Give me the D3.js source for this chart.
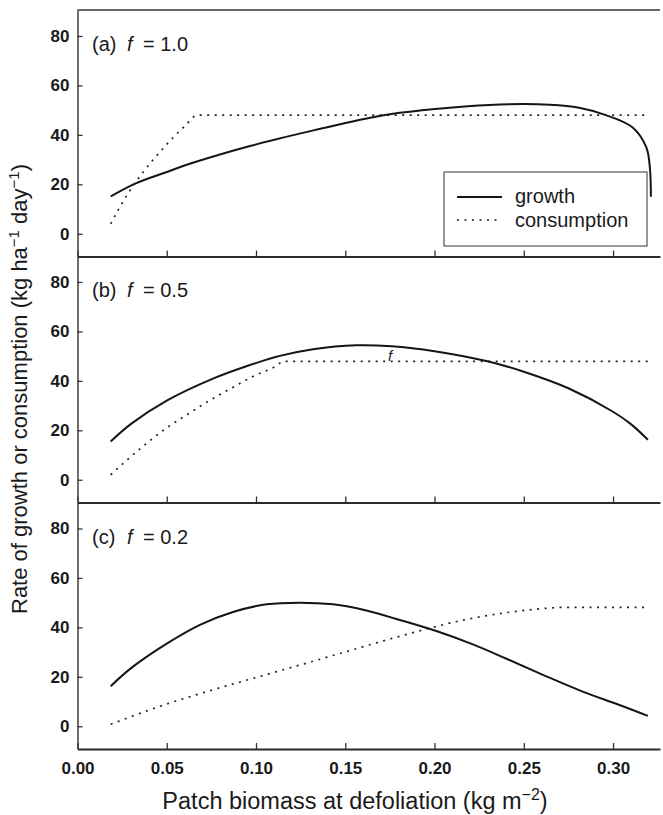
<!DOCTYPE html>
<html>
<head>
<meta charset="utf-8">
<script src="https://cdn.jsdelivr.net/npm/d3@7"></script>
<style>
  body { margin: 0; background: #fff; }
  svg { display: block; font-family: "Liberation Sans", Arial, Helvetica, sans-serif; }
  .tick text { font-size: 17px; font-weight: bold; fill: #1a1a1a; }
  .tick line { stroke: #333; stroke-width: 1.3; }
  .growth { fill: none; stroke: #151515; stroke-width: 2; }
  .consumption { fill: none; stroke: #222; stroke-width: 1.7; stroke-dasharray: 2 5.5; }
</style>
</head>
<body>
<svg width="663" height="815"></svg>
<script>
// panel f values and y ticks
const panelNames = ["(a)", "(b)", "(c)"];
const fValues = ["1.0", "0.5", "0.2"];
const xTicks = [0, 0.05, 0.10, 0.15, 0.20, 0.25, 0.30];
const yTicks = [0, 20, 40, 60, 80];

// [patch biomass, rate]
const growthA = [[0.0186,15.1],[0.032,20.2],[0.05,25.0],[0.0655,28.9],[0.0972,35.6],[0.131,41.6],
  [0.164,46.9],[0.1805,48.9],[0.2085,51],[0.2365,52.3],[0.2645,52.2],[0.281,51],[0.296,48],
  [0.311,43],[0.3186,35],[0.3206,27],[0.3212,15]];
const consumptionA = [[0.0186,4],[0.0282,16.2],[0.0375,25.6],[0.0478,34.4],[0.0599,43.4],[0.0674,48],[0.3186,48]];

const growthB = [[0.0186,15.5],[0.03,22.6],[0.05,32.0],[0.0759,40.9],[0.0946,45.9],
  [0.1133,50.1],[0.132,52.8],[0.156,54.4],[0.176,54],[0.2,52],[0.229,48],[0.25,43.7],[0.275,37],
  [0.3,27.5],[0.31,22.5],[0.3195,16.2]];
const consumptionB = [[0.0186,2],[0.035,12.5],[0.05,21],[0.0606,26],[0.0731,31.7],[0.0853,36.7],
  [0.0983,41.8],[0.111,45.9],[0.1155,47.9],[0.3195,47.9]];

const growthC = [[0.0186,16.2],[0.03,23.5],[0.05,33.4],[0.0686,41.0],[0.0871,46.2],[0.1058,49.3],
  [0.1245,50],[0.1431,49.3],[0.1618,46.8],[0.1805,43],[0.201,38.5],[0.2215,33.1],[0.24,27.4],
  [0.2607,20.8],[0.283,14.0],[0.3036,8.6],[0.3195,4.2]];
const consumptionC = [[0.0186,0.8],[0.05,9],[0.0686,13.2],[0.1058,20.9],[0.1431,28.6],[0.1805,36.4],
  [0.2178,43.2],[0.2551,47.2],[0.2738,48.1],[0.3195,48.1]];

const growthSeries = [growthA, growthB, growthC];
const consumptionSeries = [consumptionA, consumptionB, consumptionC];

const svg = d3.select("svg");
const left = 77.5, right = 660;
const panelTops = [10, 256, 502.5];
const panelH = 246.5;

const x = d3.scaleLinear().domain([0, 0.3263]).range([left, right]);

// top border
svg.append("line")
  .attr("x1", x.range()[0]).attr("x2", x.range()[1])
  .attr("y1", panelTops[0]).attr("y2", panelTops[0])
  .attr("stroke", "#333").attr("stroke-width", 1.6);

panelNames.forEach((name, i) => {
  const top = panelTops[i], bottom = top + panelH;
  const y = d3.scaleLinear().domain([-9.2, 90.5]).range([bottom, top]);
  const g = svg.append("g");

  const yAxis = g.append("g")
    .attr("transform", `translate(${left},0)`)
    .call(d3.axisLeft(y).tickValues(yTicks).tickSizeInner(-5).tickSizeOuter(0).tickPadding(8));
  yAxis.select(".domain").attr("stroke", "#333").attr("stroke-width", 1.4);

  const xAxis = g.append("g")
    .attr("transform", `translate(0,${bottom})`)
    .call(d3.axisBottom(x).tickValues(xTicks).tickFormat(d3.format(".2f"))
      .tickSizeInner(-6).tickSizeOuter(0).tickPadding(13));
  xAxis.select(".domain").attr("stroke", "#2a2a2a").attr("stroke-width", 1.9);
  if (i < 2) xAxis.selectAll(".tick text").remove();

  const growthLine = d3.line()
    .x(d => x(d[0])).y(d => y(d[1]))
    .curve(d3.curveCatmullRom.alpha(0.5));
  const consLine = d3.line()
    .x(d => x(d[0])).y(d => y(d[1]))
    .curve(d3.curveMonotoneX);

  g.append("path").attr("class", "consumption").attr("d", consLine(consumptionSeries[i]));
  g.append("path").attr("class", "growth").attr("d", growthLine(growthSeries[i]));

  // panel label
  const lab = g.append("g").attr("font-size", 20).attr("fill", "#1a1a1a");
  lab.append("text").attr("x", 92).attr("y", top + 41).text(name);
  lab.append("text").attr("x", 127).attr("y", top + 41).attr("font-style", "italic").text("f");
  lab.append("text").attr("x", 143).attr("y", top + 41).text("= " + fValues[i]);

  if (i === 1) {
    g.append("text")
      .attr("x", x(0.1756) - 3).attr("y", y(48))
      .attr("font-size", 15).attr("font-style", "italic").attr("fill", "#1a1a1a")
      .text("f");
  }
});

// legend
const leg = svg.append("g");
leg.append("rect")
  .attr("x", 444).attr("y", 172).attr("width", 203).attr("height", 74)
  .attr("fill", "#fff").attr("stroke", "#333").attr("stroke-width", 1);
leg.append("line").attr("class", "growth").attr("x1", 457).attr("x2", 502).attr("y1", 197).attr("y2", 197)
  .attr("stroke-width", 1.5);
leg.append("line").attr("class", "consumption").attr("x1", 457).attr("x2", 502).attr("y1", 220).attr("y2", 220)
  .attr("stroke-width", 1.5);
leg.append("text").attr("x", 515).attr("y", 203).attr("font-size", 20).attr("fill", "#1a1a1a").text("growth");
leg.append("text").attr("x", 515).attr("y", 227).attr("font-size", 20).attr("fill", "#1a1a1a").text("consumption");

// axis titles
const xt = svg.append("text")
  .attr("x", 355).attr("y", 809).attr("text-anchor", "middle")
  .attr("font-size", 23.5).attr("fill", "#1a1a1a");
xt.append("tspan").text("Patch biomass at defoliation (kg m");
xt.append("tspan").attr("dy", -9).attr("font-size", 16).text("\u22122");
xt.append("tspan").attr("dy", 9).text(")");

const yt = svg.append("text")
  .attr("transform", "translate(27,389) rotate(-90)")
  .attr("text-anchor", "middle")
  .attr("font-size", 22).attr("fill", "#1a1a1a");
yt.append("tspan").text("Rate of growth or consumption (kg ha");
yt.append("tspan").attr("dy", -8).attr("font-size", 15).text("\u22121");
yt.append("tspan").attr("dy", 8).text(" day");
yt.append("tspan").attr("dy", -8).attr("font-size", 15).text("\u22121");
yt.append("tspan").attr("dy", 8).text(")");
</script>
</body>
</html>
